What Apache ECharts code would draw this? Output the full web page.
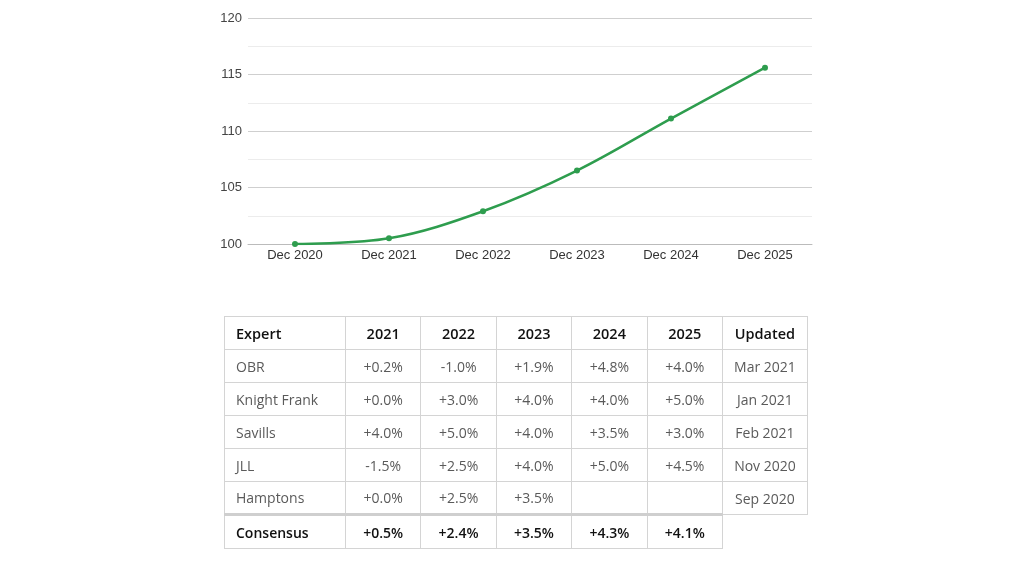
<!DOCTYPE html>
<html><head><meta charset="utf-8">
<script src="https://cdn.jsdelivr.net/npm/echarts@6/dist/echarts.min.js"></script>
<style>
html,body{margin:0;padding:0;background:#fff;}
#chart{position:absolute;left:0;top:0;width:1024px;height:573px;}
#tbl{position:absolute;left:224px;top:316px;width:583px;table-layout:fixed;border-collapse:collapse;font-family:"Open Sans","Noto Sans",sans-serif;font-size:14px;color:#5a5a5a;}
#tbl td,#tbl th{border:1px solid #d4d4d4;height:33px;padding:0 11px;text-align:center;box-sizing:border-box;white-space:nowrap;}
#tbl th{color:#111;font-weight:600;font-size:14.5px;}
#tbl td.name,#tbl th.name{text-align:left;}
#tbl tr.cons td{font-weight:600;color:#111;border-top:3px solid #cfcfcf;height:34px;}
#tbl tr.cons td.blank{border:none;border-top:1px solid #d4d4d4;}
</style></head>
<body>
<div id="chart"></div>
<table id="tbl"></table>
<script>
const categories = ['Dec 2020','Dec 2021','Dec 2022','Dec 2023','Dec 2024','Dec 2025'];
const indexValues = [100, 100.5, 102.9, 106.5, 111.1, 115.6];
const yTicks = [100, 105, 110, 115, 120];

const years = ['2021','2022','2023','2024','2025'];
const experts = ['OBR','Knight Frank','Savills','JLL','Hamptons'];
const forecasts = [
  ['+0.2%','-1.0%','+1.9%','+4.8%','+4.0%'],
  ['+0.0%','+3.0%','+4.0%','+4.0%','+5.0%'],
  ['+4.0%','+5.0%','+4.0%','+3.5%','+3.0%'],
  ['-1.5%','+2.5%','+4.0%','+5.0%','+4.5%'],
  ['+0.0%','+2.5%','+3.5%','',''],
];
const updated = ['Mar 2021','Jan 2021','Feb 2021','Nov 2020','Sep 2020'];
const consensus = ['+0.5%','+2.4%','+3.5%','+4.3%','+4.1%'];

const chart = echarts.init(document.getElementById('chart'));
chart.setOption({
  animation:false,
  grid:{left:248,right:212,top:18,bottom:329},
  xAxis:{type:'category',data:categories,boundaryGap:true,
    axisLine:{lineStyle:{color:'#bbb',width:1}},axisTick:{show:false},
    axisLabel:{color:'#333',fontFamily:'Liberation Sans, Arial',fontSize:13,margin:5}},
  yAxis:{type:'value',min:yTicks[0],max:yTicks[yTicks.length-1],interval:5,
    axisLine:{show:false},axisTick:{show:false},
    axisLabel:{color:'#444',fontFamily:'Liberation Sans, Arial',fontSize:13,margin:6},
    splitLine:{lineStyle:{color:'#cfcfcf',width:1}},
    minorTick:{show:false,splitNumber:2},
    minorSplitLine:{show:true,lineStyle:{color:'#ececec',width:1}}},
  series:[{type:'line',data:indexValues,smooth:0.35,symbol:'circle',symbolSize:6,
    lineStyle:{color:'#2e9d4e',width:2.5},itemStyle:{color:'#2e9d4e'}}]
});

const tbl = document.getElementById('tbl');
let html = '<colgroup><col style="width:121px">';
years.forEach(()=>{html += '<col style="width:75.4px">';});
html += '<col style="width:85px"></colgroup>';
html += '<tr><th class="name">Expert</th>';
years.forEach(y=>{html += '<th>'+y+'</th>';});
html += '<th>Updated</th></tr>';
experts.forEach((e,i)=>{
  html += '<tr><td class="name">'+e+'</td>';
  forecasts[i].forEach(v=>{html += '<td>'+v+'</td>';});
  html += '<td>'+updated[i]+'</td></tr>';
});
html += '<tr class="cons"><td class="name">Consensus</td>';
consensus.forEach(v=>{html += '<td>'+v+'</td>';});
html += '<td class="blank"></td></tr>';
tbl.innerHTML = html;
</script>
</body></html>
